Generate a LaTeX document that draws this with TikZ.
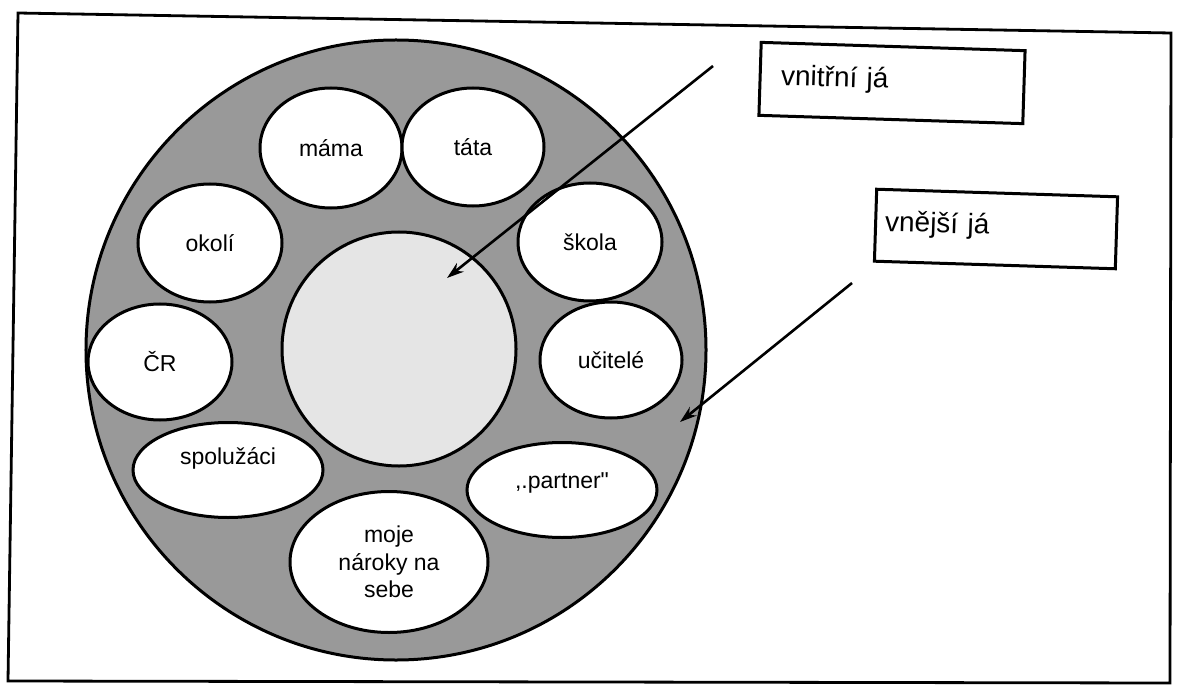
\documentclass[tikz,border=0pt]{standalone}
\usepackage{fontspec}
\setmainfont{Liberation Sans}
\newfontfamily\labelfont{Liberation Sans}
\usetikzlibrary{arrows.meta,shapes.geometric}
\definecolor{ringgray}{gray}{0.60}
\definecolor{coregray}{gray}{0.90}

\begin{document}
\begin{tikzpicture}[x=1bp,y=-1bp,
		oval/.style={ellipse,draw,line width=3bp,fill=white,inner sep=0pt,align=center,
			font=\labelfont\fontsize{23bp}{27.5bp}\selectfont},
		jabox/.style={draw,line width=3bp,rotate=-1.8,inner sep=0pt,
			text width=222bp,align=left,text height=21bp,text depth=10bp,
			font=\labelfont\fontsize{28bp}{32bp}\selectfont},
		pointer/.style={line width=2.6bp,-{Stealth[length=17bp,width=11bp]}}]
		%%%%% START %%%%%
		\useasboundingbox (0,0) rectangle (1180,690);
		\draw[line width=2.8bp] (18,13) -- (1171,33) -- (1170,683) -- (8,681) -- cycle;
		
		\node[circle,draw,line width=3bp,fill=ringgray,minimum size=620bp] (outer) at (396,350) {};
		\node[circle,draw,line width=3bp,fill=coregray,minimum size=234bp] (inner) at (399,349) {};
		
		\node[oval,minimum width=142bp,minimum height=120bp] (mama) at (331,148) {máma};
		\node[oval,minimum width=142bp,minimum height=118bp] (tata) at (473,147) {táta};
		\node[oval,minimum width=144bp,minimum height=118bp] (okoli) at (210,243) {okolí};
		\node[oval,minimum width=144bp,minimum height=118bp] (skola) at (590,242) {škola};
		\node[oval,minimum width=144bp,minimum height=116bp] (cr) at (160,362) {ČR};
		\node[oval,minimum width=142bp,minimum height=116bp] (ucitele) at (611,360) {učitelé};
		\node[oval,minimum width=190bp,minimum height=95bp,text height=17bp,text depth=29bp] (spoluzaci) at (228,470) {spolužáci};
		\node[oval,minimum width=190bp,minimum height=95bp,text height=17bp,text depth=21bp] (partner) at (562,490) {,.partner"};
		\node[oval,minimum width=198bp,minimum height=141bp] (naroky) at (389,562) {moje\\nároky na\\sebe};
		
		\node[jabox,minimum width=264bp,minimum height=73bp] (vnitrni) at (892,83) {vnitřní já};
		\node[jabox,minimum width=241bp,minimum height=72bp] (vnejsi) at (996,229) {vnější já};
		
		\coordinate (vnitrnistart) at (713,66);
		\coordinate (vnitrnitip) at (447,278);
		\coordinate (vnejsistart) at (852,283);
		\coordinate (vnejsitip) at (680,422);
		\draw[pointer] (vnitrnistart) -- (vnitrnitip);
		\draw[pointer] (vnejsistart) -- (vnejsitip);
		%%%%% END %%%%%
	\end{tikzpicture}
\end{document}
